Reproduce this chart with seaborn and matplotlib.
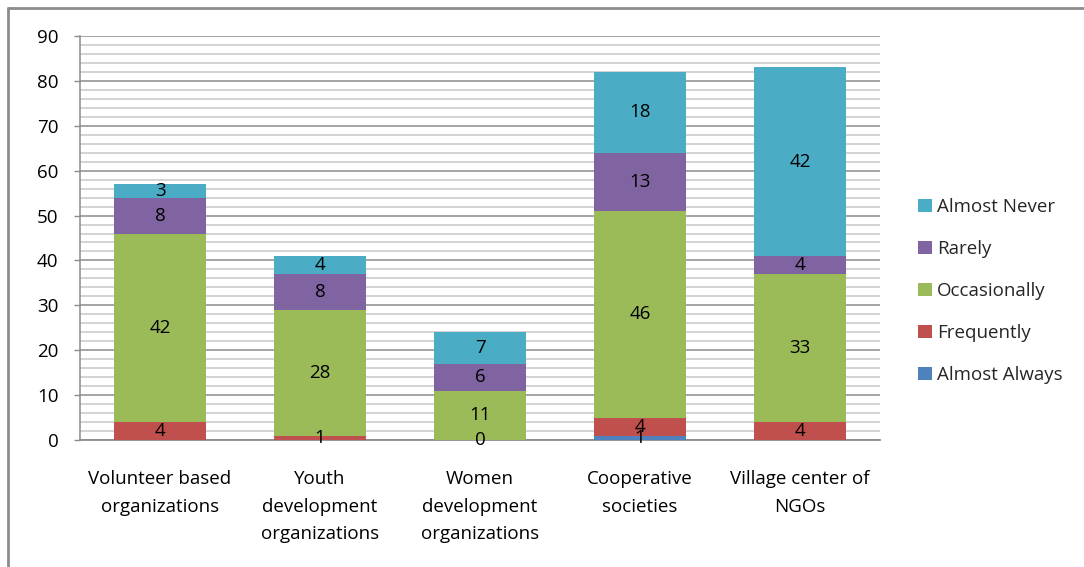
import numpy as np
import pandas as pd
import matplotlib
matplotlib.use("Agg")
import matplotlib.pyplot as plt
import seaborn as sns
from matplotlib.ticker import MultipleLocator
from matplotlib.lines import Line2D
from matplotlib.patches import Patch

categories = ["Volunteer based\norganizations", "Youth\ndevelopment\norganizations",
              "Women\ndevelopment\norganizations", "Cooperative\nsocieties",
              "Village center of\nNGOs"]
almost_always = [0, 0, 0, 1, 0]
frequently = [4, 1, 0, 4, 4]
occasionally = [42, 28, 11, 46, 33]
rarely = [8, 8, 6, 13, 4]
almost_never = [3, 4, 7, 18, 42]

series_names = ["Almost Always", "Frequently", "Occasionally", "Rarely", "Almost Never"]
series_vals = [almost_always, frequently, occasionally, rarely, almost_never]
colors = ["#4F81BD", "#C0504D", "#9BBB59", "#8064A2", "#4BACC6"]
show_zero = [False, True, False, False, False]

sns.set_theme(style="white")
plt.rcParams['font.family'] = ['Open Sans', 'DejaVu Sans']
FS = 13.5

df = pd.DataFrame({"category": categories})
cum = np.zeros(len(categories))
cums = []
for v in series_vals:
    cum = cum + np.array(v)
    cums.append(cum.copy())

fig = plt.figure(figsize=(10.84, 5.67), dpi=100)
ax = fig.add_axes([80/1084, 1-440/567, 800/1084, 404/567])

# draw cumulative totals from top down
for name, c, col in reversed(list(zip(series_names, cums, colors))):
    d = df.copy()
    d["value"] = c
    sns.barplot(data=d, x="category", y="value", color=col, width=0.57,
                saturation=1, ax=ax, edgecolor="none", linewidth=0, zorder=3)

# data labels
for s_i, (vals, c) in enumerate(zip(series_vals, cums)):
    for i, v in enumerate(vals):
        if v == 0 and not show_zero[s_i]:
            continue
        yc = c[i] - v / 2
        ax.text(i, yc, str(v), ha="center", va="center", fontsize=FS,
                color="black", zorder=5)

ax.set_ylim(0, 90)
ax.set_xlim(-0.5, 4.5)
ax.yaxis.set_major_locator(MultipleLocator(10))
ax.yaxis.set_minor_locator(MultipleLocator(2))
ax.set_axisbelow(True)
ax.grid(axis="y", which="minor", color="#d0d0d0", linewidth=1.3, zorder=0)
ax.grid(axis="y", which="major", color="#8c8c8c", linewidth=1.1, zorder=1)
ax.grid(axis="x", visible=False)
ax.set_xlabel("")
ax.set_ylabel("")
for sp in ["top", "right"]:
    ax.spines[sp].set_visible(False)
ax.spines["left"].set_color("#8c8c8c")
ax.spines["bottom"].set_color("#8c8c8c")
ax.spines["left"].set_linewidth(1.1)
ax.spines["bottom"].set_linewidth(1.3)
ax.tick_params(axis="y", which="major", left=True, length=4.5, width=1,
               color="#8c8c8c", pad=11, labelsize=FS, labelcolor="black")
ax.tick_params(axis="y", which="minor", left=False)
ax.tick_params(axis="x", bottom=False, pad=15.5, labelsize=FS, labelcolor="black")
for lab in ax.get_xticklabels():
    lab.set_linespacing(1.7)

handles = [Patch(facecolor=col, edgecolor="none", label=n)
           for n, col in reversed(list(zip(series_names, colors)))]
fig.legend(handles=handles, loc="center left", bbox_to_anchor=(909/1084, 1-291/567),
           frameon=False, fontsize=FS, handlelength=0.7, handleheight=0.7,
           handletextpad=0.3, labelspacing=1.28, borderpad=0)

# outer chart border
fig.add_artist(Line2D([8/1084, 1], [1-8/567, 1-8/567], color="#8c8c8c", linewidth=2,
                      transform=fig.transFigure))
fig.add_artist(Line2D([8/1084, 8/1084], [0, 1-8/567], color="#8c8c8c", linewidth=2,
                      transform=fig.transFigure))

fig.savefig("out.png", dpi=100)
